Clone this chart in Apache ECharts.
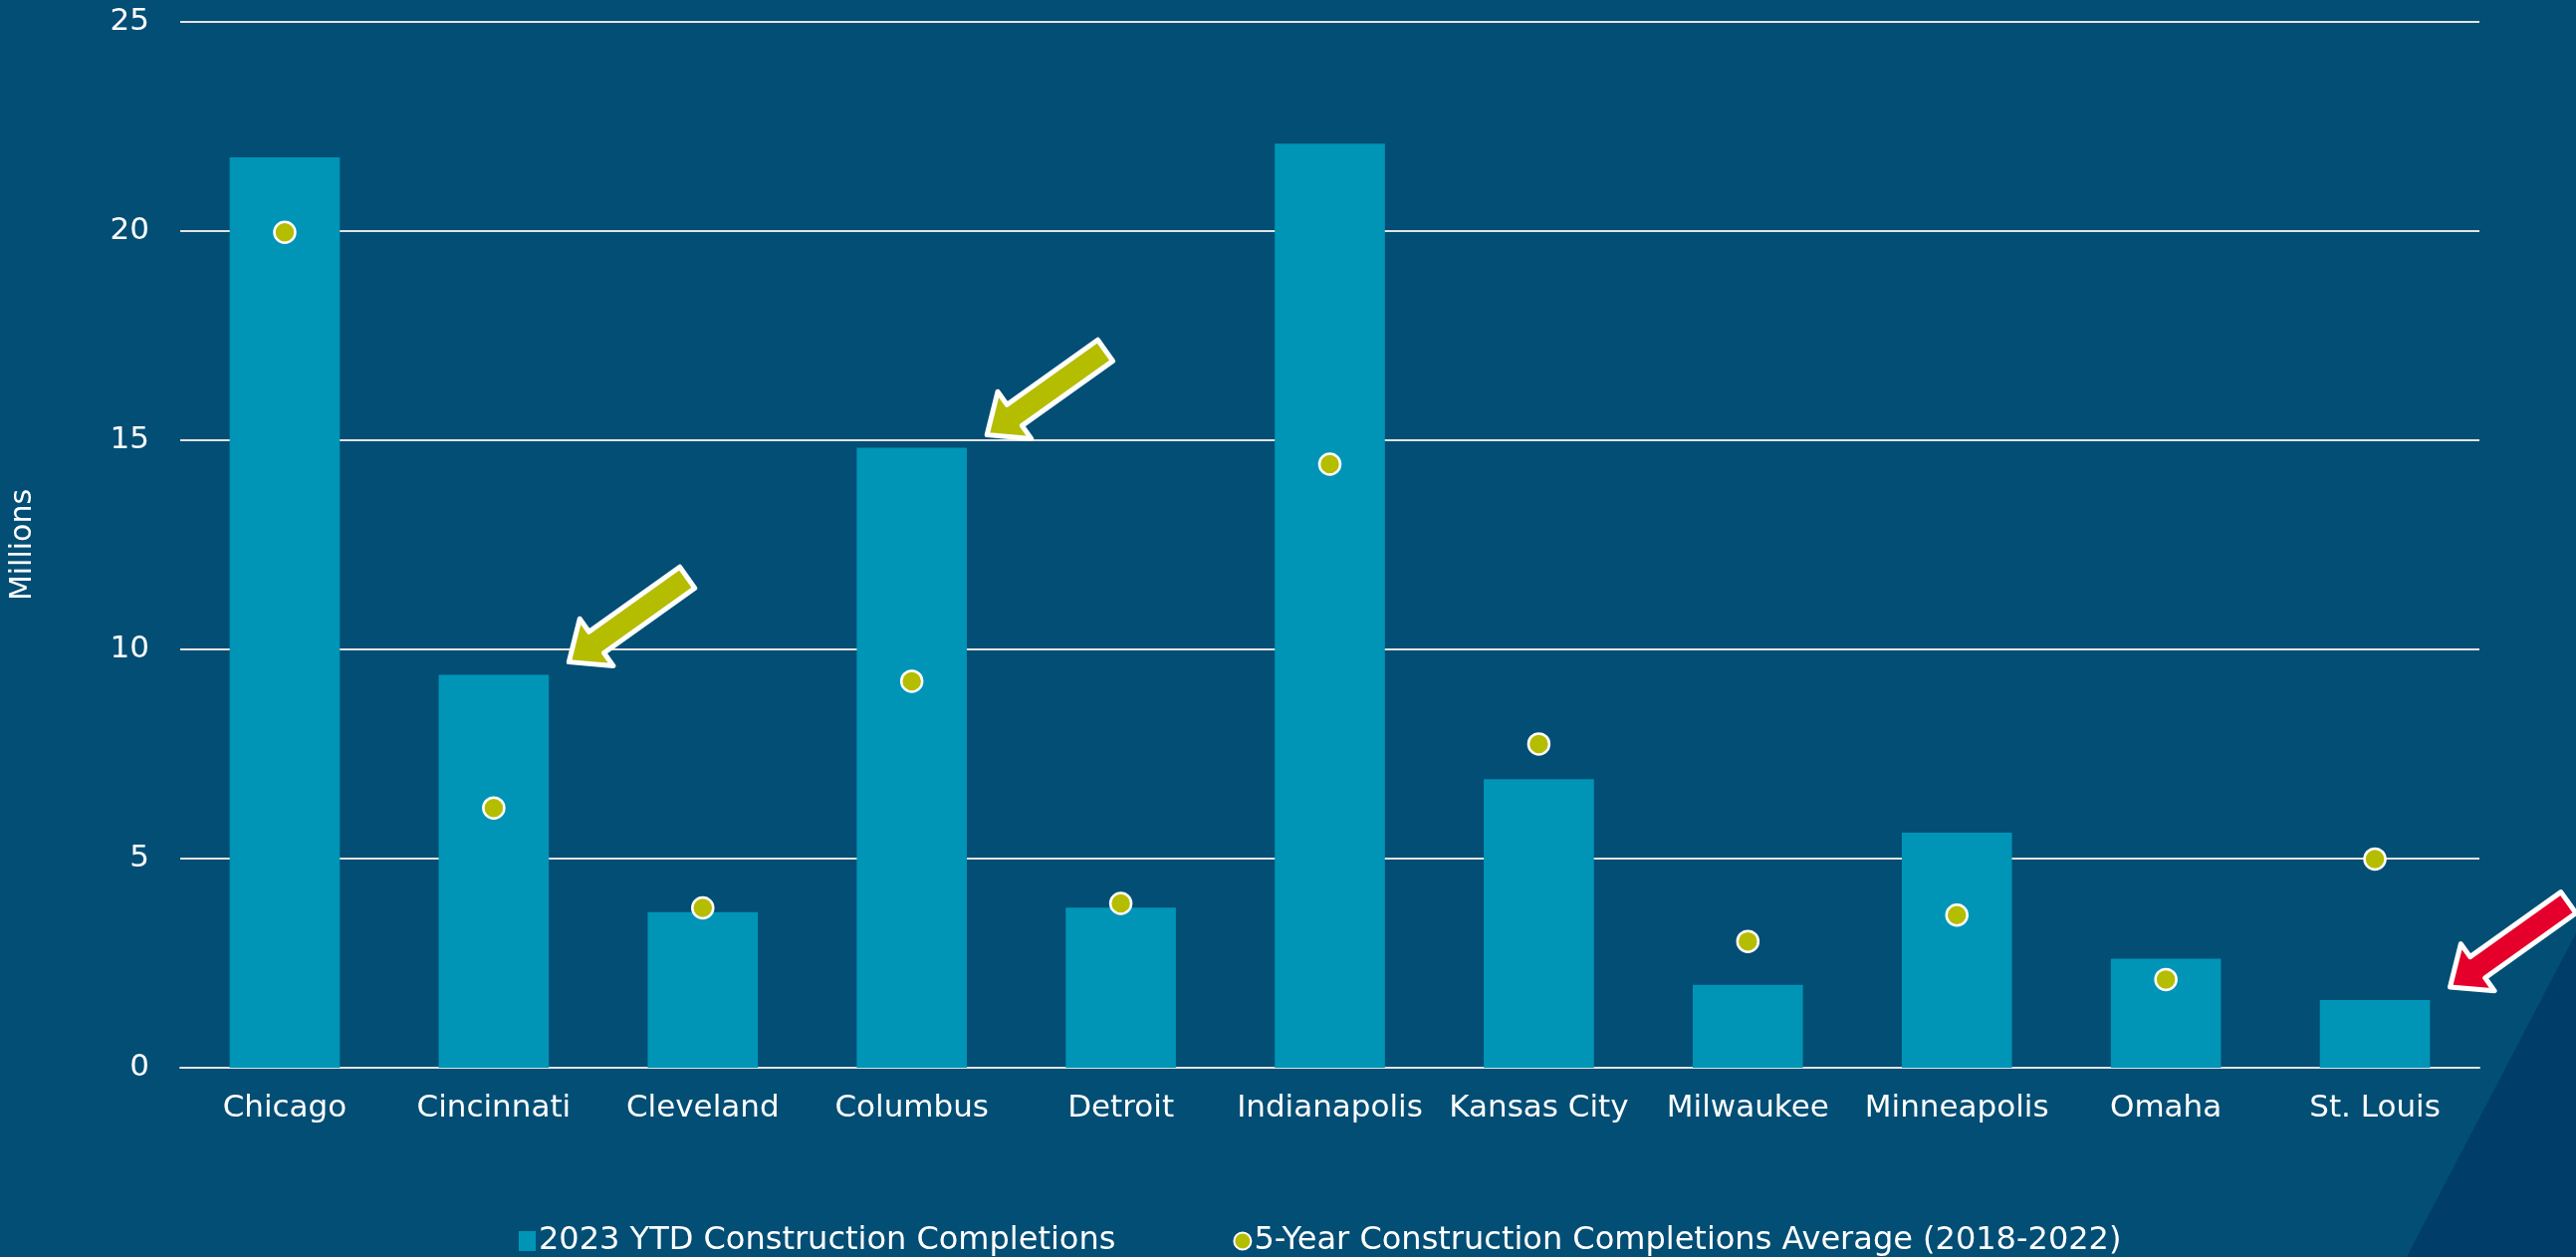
<!DOCTYPE html>
<html>
<head>
<meta charset="utf-8">
<script src="https://cdn.jsdelivr.net/npm/echarts@6/dist/echarts.min.js"></script>
<style>
  html, body { margin: 0; padding: 0; background: #024E75; }
  #chart { width: 2587px; height: 1262px; }
</style>
</head>
<body>
<div id="chart"></div>
<script>
// Industrial construction completions by Midwest market (millions of sq ft)
const cities = ['Chicago', 'Cincinnati', 'Cleveland', 'Columbus', 'Detroit', 'Indianapolis',
                'Kansas City', 'Milwaukee', 'Minneapolis', 'Omaha', 'St. Louis'];
const completions2023 = [21.76, 9.39, 3.72, 14.82, 3.83, 22.09, 6.90, 1.98, 5.62, 2.61, 1.62];
const fiveYearAverage = [19.97, 6.21, 3.82, 9.24, 3.93, 14.43, 7.74, 3.02, 3.65, 2.11, 4.99];
const yTicks = [0, 5, 10, 15, 20, 25];

const barName = '2023 YTD Construction Completions';
const dotName = '5-Year Construction Completions Average (2018-2022)';

// Callouts: which market gets an arrow, and its colour
const callouts = [
  { city: 'Cincinnati', color: '#B5BD00' },
  { city: 'Columbus', color: '#B5BD00' },
  { city: 'St. Louis', color: '#E4002B' }
];

const FONT = '"DejaVu Sans", sans-serif';
const GRID = { left: 174, right: 97, top: 22, bottom: 190 };
const BAR_SHARE = 0.527;

const chart = echarts.init(document.getElementById('chart'), null, { renderer: 'canvas' });

const option = {
  backgroundColor: '#024E75',
  animation: false,
  textStyle: { fontFamily: FONT },
  grid: Object.assign({ containLabel: false }, GRID),
  legend: {
    left: 516,
    top: 1225,
    itemGap: 118,
    itemWidth: 17,
    itemHeight: 20,
    textStyle: { color: '#FFFFFF', fontSize: 32, fontFamily: FONT, padding: [0, 0, 0, -2] },
    data: [
      { name: barName, icon: 'rect' },
      { name: dotName, icon: 'circle', itemStyle: { color: '#B5BD00', borderColor: '#FFFFFF', borderWidth: 2 } }
    ]
  },
  xAxis: {
    type: 'category',
    data: cities,
    axisLine: { show: true, lineStyle: { color: '#E3E3E3', width: 2 } },
    axisTick: { show: false },
    axisLabel: { color: '#FFFFFF', fontSize: 31, margin: 25, fontFamily: FONT, interval: 0 }
  },
  yAxis: {
    type: 'value',
    min: yTicks[0],
    max: yTicks[yTicks.length - 1],
    interval: yTicks[1] - yTicks[0],
    name: 'Millions',
    nameLocation: 'middle',
    nameGap: 143,
    nameRotate: 90,
    nameTextStyle: { color: '#FFFFFF', fontSize: 30, fontFamily: FONT },
    axisLine: { show: false },
    axisTick: { show: false },
    axisLabel: { color: '#FFFFFF', fontSize: 31, margin: 31, fontFamily: FONT },
    splitLine: { show: true, lineStyle: { color: '#E3E3E3', width: 2 } }
  },
  series: [
    {
      name: barName,
      type: 'bar',
      data: completions2023,
      barWidth: (BAR_SHARE * 100) + '%',
      itemStyle: { color: '#0095B6' },
      z: 2
    },
    {
      name: dotName,
      type: 'scatter',
      data: fiveYearAverage,
      symbol: 'circle',
      symbolSize: 21,
      itemStyle: { color: '#B5BD00', borderColor: '#FFFFFF', borderWidth: 2.5, opacity: 1 },
      z: 3
    }
  ]
};

chart.setOption(option);

// Arrow outline in local coordinates: tip at the origin, tail running along +x
function arrowPoints() {
  const L = 146, Lh = 34, Wh = 29, Ws = 13;
  return [[0, 0], [Lh, -Wh], [Lh, -Ws], [L, -Ws], [L, Ws], [Lh, Ws], [Lh, Wh]];
}

function buildGraphics() {
  const catWidth = (chart.getWidth() - GRID.left - GRID.right) / cities.length;
  const halfBar = catWidth * BAR_SHARE / 2;
  const elements = [
    // darker diagonal panel in the bottom-right corner
    {
      type: 'polygon',
      z: -10,
      silent: true,
      shape: { points: [[2417, 1262], [2587, 937], [2587, 1262]] },
      style: { fill: '#003D69' }
    }
  ];
  callouts.forEach(c => {
    const idx = cities.indexOf(c.city);
    const top = chart.convertToPixel({ xAxisIndex: 0, yAxisIndex: 0 }, [idx, completions2023[idx]]);
    elements.push({
      type: 'polygon',
      z: 100,
      silent: true,
      x: top[0] + halfBar + 20,
      y: top[1] - 13,
      rotation: 35.5 * Math.PI / 180,
      shape: { points: arrowPoints() },
      style: { fill: c.color, stroke: '#FFFFFF', lineWidth: 5, lineJoin: 'round' }
    });
  });
  chart.setOption({ graphic: { elements: elements } });
}

buildGraphics();
</script>
</body>
</html>
